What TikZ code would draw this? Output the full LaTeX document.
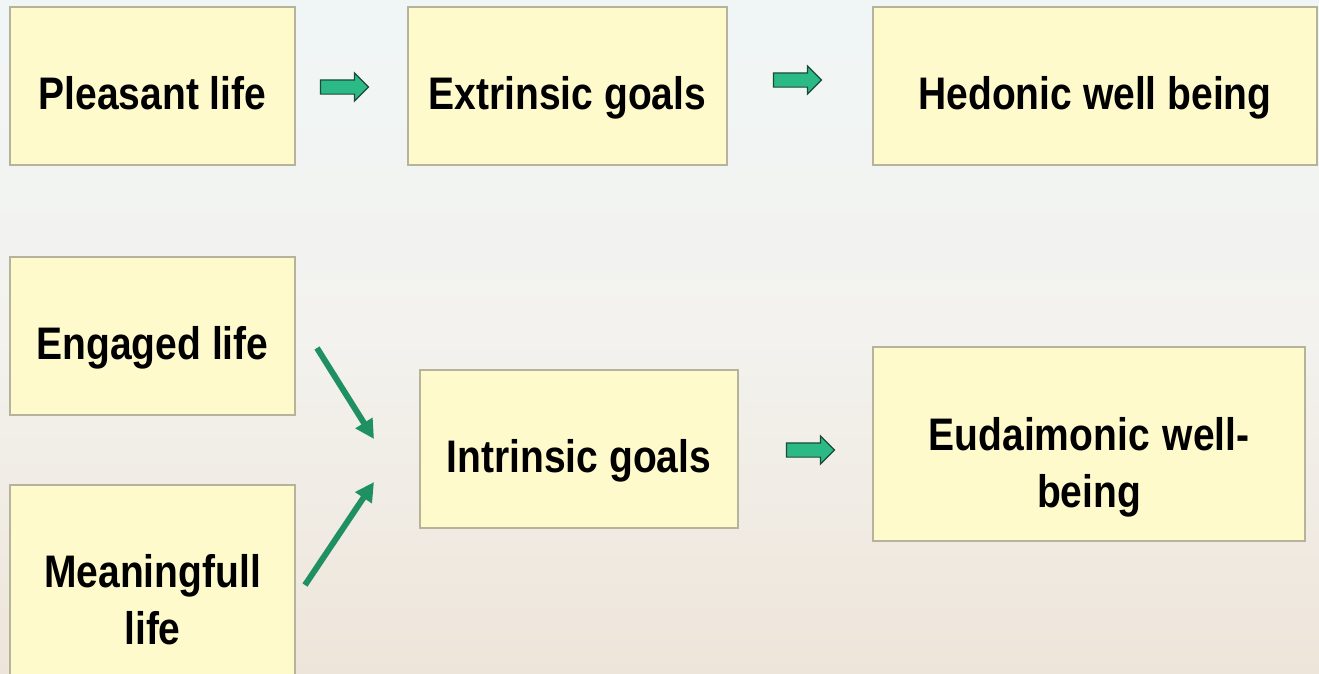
\documentclass[tikz,border=0pt]{standalone}
\usepackage{fontspec}
\usepackage{graphicx}
\setmainfont{Liberation Sans}
\usetikzlibrary{shapes.arrows,arrows.meta}
\definecolor{boxfill}{HTML}{FFFACB}
\definecolor{boxline}{HTML}{B5B39A}
\definecolor{arrfill}{HTML}{2BBA86}
\definecolor{arrline}{HTML}{1D4A38}
\definecolor{diagc}{HTML}{1F9062}
\definecolor{bgTop}{HTML}{F0F6F6}
\definecolor{bgMid}{HTML}{F3F2EE}
\definecolor{bgBot}{HTML}{EEE5DA}
\newcommand{\tl}[1]{\scalebox{1}[1.17]{#1}}
\newcommand{\hr}[1]{\rule{0pt}{#1}}
\newcommand{\dr}[1]{\rule[-#1]{0pt}{#1}}
\tikzset{
  box/.style={draw=boxline, line width=1.5pt, fill=boxfill, rectangle, inner sep=0pt,
    align=center, font=\fontsize{39}{57}\selectfont\bfseries},
  blockarrow/.style={single arrow, draw=arrline, line width=1.2pt, fill=arrfill,
    single arrow head extend=7pt, single arrow head indent=0pt,
    minimum height=48pt, inner xsep=0pt, inner ysep=6.5pt},
  diag/.style={draw=diagc, line width=6pt, -{Triangle[length=19pt,width=19pt]}}
}
\begin{document}
\begin{tikzpicture}[x=1pt,y=-1pt]
\useasboundingbox (0,0) rectangle (1319,673);
\shade[top color=bgTop, bottom color=bgBot, middle color=bgMid] (0,0) rectangle (1319,673);
% boxes
\node[box, minimum width=285pt, minimum height=158pt] (pl) at (152.5,86) {\hr{58pt}\dr{11pt}\tl{Pleasant life}};
\node[box, minimum width=319pt, minimum height=158pt] (ex) at (567.5,86) {\hr{58pt}\dr{11pt}\tl{Extrinsic goals}};
\node[box, minimum width=444pt, minimum height=158pt] (he) at (1095,86) {\hr{58pt}\dr{11pt}\tl{Hedonic well being}};
\node[box, minimum width=285pt, minimum height=158pt] (en) at (152.5,336) {\hr{58pt}\dr{11pt}\tl{Engaged life}};
\node[box, minimum width=285pt, minimum height=200pt, text width=270pt] (me) at (152.5,585) {\hr{72pt}\tl{Meaningfull}\\\dr{11pt}\tl{life}};
\node[box, minimum width=318pt, minimum height=158pt] (in) at (579,449) {\hr{58pt}\dr{11pt}\tl{Intrinsic goals}};
\node[box, minimum width=432pt, minimum height=194pt, text width=400pt] (eu) at (1089,444) {\hr{81pt}\tl{Eudaimonic well-}\\\dr{11pt}\tl{being}};
% block arrows
\node[blockarrow] (a1) at (341,87) {};
\node[blockarrow] (a2) at (794,80) {};
\node[blockarrow] (a3) at (807,450) {};
% diagonal arrows
\coordinate (d1s) at (317,348);
\coordinate (d1e) at (374,439);
\coordinate (d2s) at (305,585);
\coordinate (d2e) at (374,482);
\draw[diag] (d1s) -- (d1e);
\draw[diag] (d2s) -- (d2e);
\end{tikzpicture}
\end{document}
